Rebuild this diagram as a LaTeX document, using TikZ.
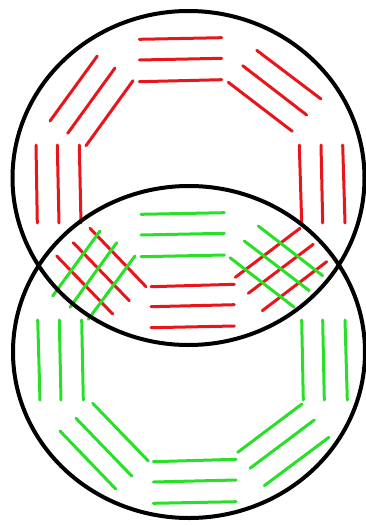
\documentclass[tikz,border=0pt]{standalone}
\definecolor{barred}{RGB}{232,22,26}
\definecolor{bargreen}{RGB}{40,224,40}
\tikzset{
  redbar/.style={draw=barred, line width=3pt, line cap=round},
  greenbar/.style={draw=bargreen, line width=3pt, line cap=round},
  ring/.style={draw=black, line width=4pt}
}
\begin{document}
\begin{tikzpicture}[x=1pt,y=-1pt]
\useasboundingbox (0,0) rectangle (366,525);
\coordinate (ctop) at (188.5,178);
\coordinate (cbot) at (189,352);
% red octagon (top ring)
\draw[redbar] (139.3,39.3) -- (221.7,37.7);
\draw[redbar] (139.3,60) -- (221.7,58.3);
\draw[redbar] (139.3,81.7) -- (221.7,79.7);
\draw[redbar] (50,121) -- (97.3,56);
\draw[redbar] (67.7,133.3) -- (115,68);
\draw[redbar] (86,145.7) -- (133,80.7);
\draw[redbar] (256.7,50.3) -- (321,99);
\draw[redbar] (242.7,65.7) -- (306.7,115);
\draw[redbar] (228.3,82.3) -- (292.3,131.3);
\draw[redbar] (36,145) -- (37.3,223);
\draw[redbar] (57.3,145) -- (59,223);
\draw[redbar] (79.3,145) -- (81,223);
\draw[redbar] (299.3,145) -- (301.7,223);
\draw[redbar] (321,145) -- (322.7,223);
\draw[redbar] (342.7,145) -- (345,223);
\draw[redbar] (90,228.3) -- (146,286.7);
\draw[redbar] (73.3,242.7) -- (129.3,300.7);
\draw[redbar] (56.7,256) -- (112.7,314);
\draw[redbar] (151,286.7) -- (234.3,284.3);
\draw[redbar] (151,306.7) -- (234.3,304.7);
\draw[redbar] (151,327.7) -- (234.3,326);
\draw[redbar] (235.3,277.3) -- (300,228.3);
\draw[redbar] (248.3,293.3) -- (313.3,244.3);
\draw[redbar] (262.3,310.7) -- (326.7,261.7);
% green octagon (bottom ring)
\draw[greenbar] (141,214.3) -- (224.3,212.7);
\draw[greenbar] (141,235) -- (224.3,233.3);
\draw[greenbar] (141,256.7) -- (224.3,255);
\draw[greenbar] (52.7,296) -- (100,231);
\draw[greenbar] (70,307.3) -- (116.7,242.7);
\draw[greenbar] (88.3,319.3) -- (135,256);
\draw[greenbar] (258.3,226) -- (322.7,275.7);
\draw[greenbar] (244.3,241) -- (309.3,290.7);
\draw[greenbar] (230,257.7) -- (294.3,307.3);
\draw[greenbar] (37.7,320) -- (40,400);
\draw[greenbar] (59.3,320) -- (61,400);
\draw[greenbar] (81.7,320) -- (83.3,400);
\draw[greenbar] (301.7,320) -- (303.3,400);
\draw[greenbar] (322.7,320) -- (324.3,400);
\draw[greenbar] (345,320) -- (347.3,400);
\draw[greenbar] (92.7,403.3) -- (148.3,461);
\draw[greenbar] (76,418.3) -- (131.7,476);
\draw[greenbar] (60,431) -- (115.7,489);
\draw[greenbar] (153.3,461.7) -- (236,459.3);
\draw[greenbar] (153.3,482) -- (236,480);
\draw[greenbar] (153.3,503.3) -- (236,501.7);
\draw[greenbar] (237.7,452.3) -- (302,404);
\draw[greenbar] (250,468.3) -- (314.3,420);
\draw[greenbar] (264.3,485.7) -- (329,437.3);
% rings
\draw[ring] (ctop) ellipse [x radius=176pt, y radius=167pt];
\draw[ring] (cbot) ellipse [x radius=176pt, y radius=166pt];
\end{tikzpicture}
\end{document}
